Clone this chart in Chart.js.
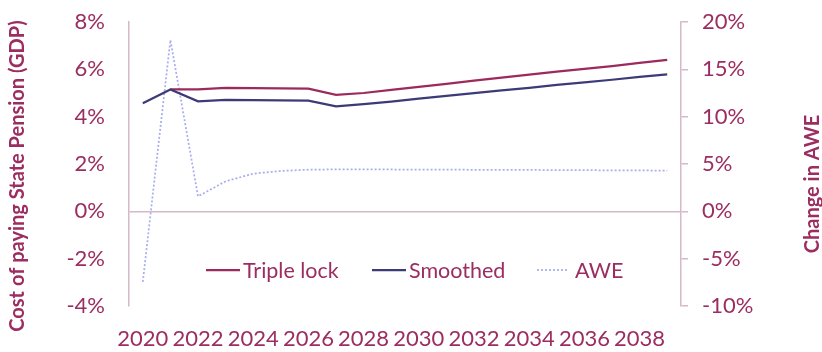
<!DOCTYPE html>
<html><head><meta charset="utf-8">
<script src="https://cdn.jsdelivr.net/npm/chart.js@4/dist/chart.umd.min.js"></script>
<style>html,body{margin:0;padding:0;background:#fff}#wrap{width:822px;height:352px;position:relative}</style>
</head><body><div id="wrap"><canvas id="c" width="822" height="352"></canvas></div>
<script>
const years = [2020,2021,2022,2023,2024,2025,2026,2027,2028,2029,2030,2031,2032,2033,2034,2035,2036,2037,2038,2039];
const tripleLock = [null,5.15,5.15,5.22,5.21,5.20,5.18,4.92,5.00,5.13,5.26,5.39,5.52,5.65,5.78,5.90,6.02,6.14,6.27,6.40];
const smoothed = [4.57,5.15,4.65,4.71,4.70,4.69,4.68,4.44,4.53,4.64,4.76,4.88,4.99,5.11,5.22,5.34,5.45,5.56,5.68,5.79];
const awe = [-7.46,18.1,1.58,3.17,3.98,4.26,4.40,4.43,4.43,4.42,4.41,4.40,4.39,4.38,4.37,4.36,4.35,4.33,4.32,4.30];
const leftTitle = 'Cost of paying State Pension (GDP)';
const rightTitle = 'Change in AWE';

const TEXT = '#9B2D61';
const AXIS = '#D6B8C8';
const RED = '#9C2A5C';
const NAVY = '#3D3A78';
const AWEC = '#A8AEEE';
const FONT = 'Lato, "Open Sans", sans-serif';

const W = 822, H = 352, L = 129, R = 681, T = 22, B = 306;

const extras = {
  id: 'extras',
  afterDraw(chart) {
    const ctx = chart.ctx;
    ctx.save();
    ctx.fillStyle = TEXT;
    ctx.font = 'bold 20px ' + FONT;
    ctx.textAlign = 'center';
    ctx.textBaseline = 'middle';
    ctx.save(); ctx.translate(18, 176); ctx.rotate(-Math.PI/2); ctx.fillText(leftTitle, 0, 0); ctx.restore();
    ctx.save(); ctx.translate(813, 184); ctx.rotate(-Math.PI/2); ctx.fillText(rightTitle, 0, 0); ctx.restore();
    // legend
    const starts = [206, 372, 537];
    const y = 270;
    ctx.font = '21.5px ' + FONT;
    ctx.textAlign = 'left';
    chart.data.datasets.forEach((ds, i) => {
      const x = starts[i];
      ctx.save();
      ctx.strokeStyle = ds.borderColor;
      ctx.lineWidth = ds.borderWidth;
      if (ds.borderDash) ctx.setLineDash(ds.borderDash);
      ctx.beginPath(); ctx.moveTo(x, y); ctx.lineTo(x + (ds.borderDash ? 30 : 34), y); ctx.stroke();
      ctx.restore();
      ctx.fillStyle = TEXT;
      ctx.fillText(ds.label, x + (ds.borderDash ? 38 : 37), y + 1);
    });
    ctx.restore();
  }
};

new Chart(document.getElementById('c'), {
  type: 'line',
  data: {
    labels: years,
    datasets: [
      {label: 'Triple lock', data: tripleLock, borderColor: RED, borderWidth: 2.25, pointRadius: 0, yAxisID: 'y', order: 2},
      {label: 'Smoothed', data: smoothed, borderColor: NAVY, borderWidth: 2.25, pointRadius: 0, yAxisID: 'y', order: 1},
      {label: 'AWE', data: awe, borderColor: AWEC, borderWidth: 1.75, borderDash: [2, 2], pointRadius: 0, yAxisID: 'y2', order: 3}
    ]
  },
  options: {
    responsive: false,
    animation: false,
    devicePixelRatio: 1,
    layout: {padding: {top: T, left: 0, right: 0, bottom: 0}},
    plugins: {legend: {display: false}, tooltip: {enabled: false}},
    scales: {
      x: {
        type: 'category', offset: true,
        grid: {display: false}, border: {display: false},
        ticks: {autoSkip: false, maxRotation: 0, minRotation: 0, padding: 12, color: TEXT, font: {family: FONT, size: 22},
          callback: (v, i) => i % 2 === 0 ? String(years[i]) : ''},
        afterFit: s => { s.height = H - B; s.paddingLeft = 0; s.paddingRight = 0; }
      },
      y: {
        position: 'left', min: -4, max: 8,
        border: {display: true, color: AXIS, width: 1.5},
        grid: {drawTicks: false, lineWidth: 1.5, color: c => (c.tick && c.tick.value === 0) ? AXIS : 'rgba(0,0,0,0)'},
        ticks: {stepSize: 2, padding: 24, color: TEXT, font: {family: FONT, size: 22}, callback: v => v + '%'},
        afterFit: s => { s.width = L; s.paddingTop = 0; s.paddingBottom = 0; }
      },
      y2: {
        position: 'right', min: -10, max: 20,
        border: {display: true, color: AXIS, width: 1.5},
        grid: {drawOnChartArea: false, drawTicks: true, tickLength: 7, color: AXIS, lineWidth: 1.5},
        ticks: {stepSize: 5, padding: 14, color: TEXT, font: {family: FONT, size: 22}, callback: v => v + '%'},
        afterFit: s => { s.width = W - R; s.paddingTop = 0; s.paddingBottom = 0; }
      }
    }
  },
  plugins: [extras]
});
</script></body></html>
